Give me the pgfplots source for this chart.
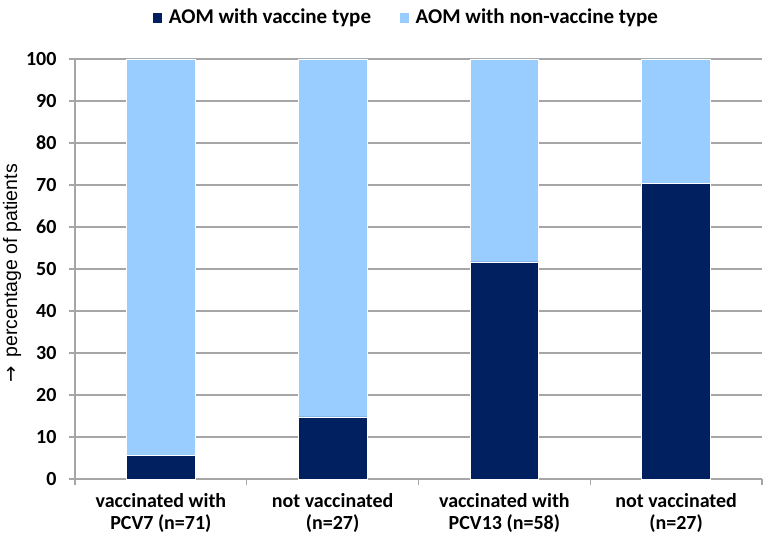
\documentclass[border=0pt]{standalone}
\usepackage{fontspec}
\setmainfont{Carlito}
\newfontfamily\labelfont{Liberation Sans}
\newfontfamily\dejavu{DejaVu Sans}
\usepackage{pgfplots}
\pgfplotsset{compat=1.18}
\definecolor{navy}{HTML}{002060}
\definecolor{lblue}{HTML}{99CCFF}
\definecolor{gridgray}{HTML}{A6A6A6}
\begin{document}
\begin{tikzpicture}
\begin{axis}[
  scale only axis, width=687bp, height=420bp,
  ybar stacked, bar width=0.4,
  xmin=-0.5, xmax=3.5, ymin=0, ymax=100,
  axis x line=bottom, axis y line=left,
  axis line style={-, draw=gridgray, line width=1.2bp},
  xtick={-0.5,0.5,1.5,2.5,3.5}, xticklabels={},
  extra x ticks={0,1,2,3},
  extra x tick labels={vaccinated with\\PCV7 (n=71),not vaccinated\\(n=27),vaccinated with\\PCV13 (n=58),not vaccinated\\(n=27)},
  extra x tick style={xtick style={draw=none}, grid=none},
  x tick label style={align=center, font=\fontsize{20bp}{22bp}\selectfont\bfseries, yshift=-5bp},
  ytick={0,10,...,100},
  y tick label style={font=\fontsize{20bp}{22bp}\selectfont\bfseries, xshift=-9bp},
  /pgf/number format/assume math mode=true,
  tick align=outside, major tick length=6bp,
  tick style={draw=gridgray, line width=1.2bp},
  ymajorgrids, grid style={draw=gridgray, line width=1.2bp},
  ylabel={{\dejavu →}\, percentage of patients},
  ylabel style={font=\labelfont\fontsize{19.5bp}{22bp}\selectfont, at={(axis description cs:-0.0917,0.49)}, anchor=center},
  legend style={at={(0.482,1)}, anchor=center, yshift=42bp, legend columns=2, draw=none,
    font=\fontsize{21bp}{23bp}\selectfont\bfseries, /tikz/every even column/.append style={column sep=26bp},
    /tikz/every odd column/.append style={inner xsep=1bp}},
  legend image code/.code={\fill[#1] (0bp,-6bp) rectangle (10bp,5bp); \path (14bp,0bp);},
]
\addplot[fill=navy, draw=white, line width=0.6bp] coordinates {(0,5.6) (1,14.8) (2,51.7) (3,70.4)};
\addplot[fill=lblue, draw=white, line width=0.6bp] coordinates {(0,94.4) (1,85.2) (2,48.3) (3,29.6)};
\legend{AOM with vaccine type, AOM with non-vaccine type}
\end{axis}
\pgfresetboundingbox
\path[use as bounding box] ([xshift=-75bp,yshift=-65bp]current axis.south west) rectangle ([xshift=3bp,yshift=59bp]current axis.north east);
\end{tikzpicture}
\end{document}
